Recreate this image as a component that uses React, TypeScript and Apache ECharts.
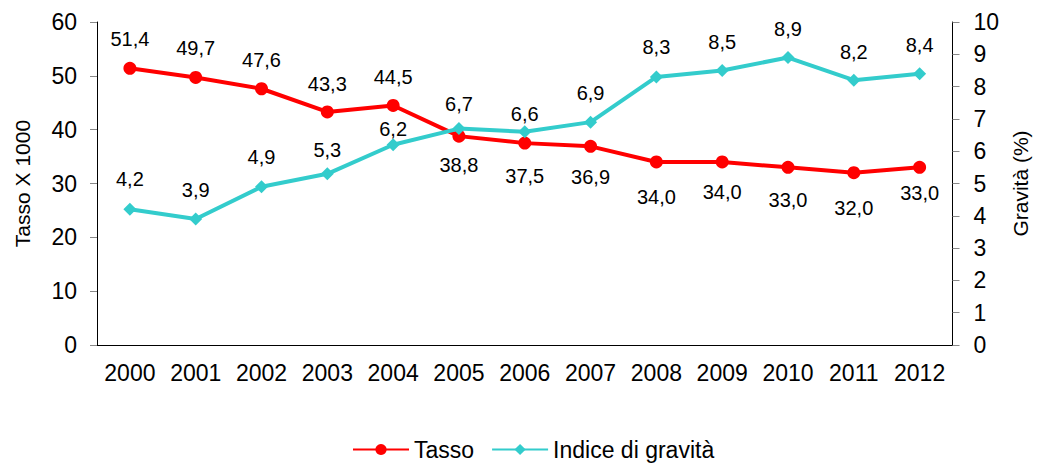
import React, { useEffect, useRef } from "react";
import * as echarts from "echarts";

const years = ["2000", "2001", "2002", "2003", "2004", "2005", "2006", "2007", "2008", "2009", "2010", "2011", "2012"];
const tasso = [51.4, 49.7, 47.6, 43.3, 44.5, 38.8, 37.5, 36.9, 34.0, 34.0, 33.0, 32.0, 33.0];
const gravita = [4.2, 3.9, 4.9, 5.3, 6.2, 6.7, 6.6, 6.9, 8.3, 8.5, 8.9, 8.2, 8.4];

// label vertical offsets (style only)
const tassoLabelDy = [-29, -29, -29, -28, -28, 29, 33, 31, 35, 30, 33, 35, 26];
const gravitaLabelDy = [-30, -29, -30, -24, -16, -25, -18, -29, -30, -28, -29, -28, -29];

const FONT = "'Liberation Sans', Arial, sans-serif";
const fmt = (v: number) => v.toFixed(1).replace(".", ",");

export default function App() {
  const ref = useRef<HTMLDivElement>(null);
  useEffect(() => {
    if (!ref.current) return;
    const chart = echarts.init(ref.current, undefined, { renderer: "svg" });
    const labelBase = {
      show: true,
      position: "inside" as const,
      color: "#000",
      fontSize: 20,
      fontFamily: FONT,
      formatter: (p: any) => fmt(p.value),
    };
    chart.setOption({
      animation: false,
      backgroundColor: "#fff",
      textStyle: { fontFamily: FONT },
      grid: { left: 97, right: 69, top: 22, bottom: 118, containLabel: false },
      legend: {
        left: 352,
        top: 438,
        padding: 0,
        itemWidth: 56,
        itemHeight: 14,
        itemGap: 17,
        textStyle: { fontSize: 23, color: "#000", fontFamily: FONT },
        data: ["Tasso", "Indice di gravità"],
      },
      xAxis: {
        type: "category",
        data: years,
        boundaryGap: true,
        axisLine: { lineStyle: { color: "#000", width: 1 } },
        axisTick: { length: 7, lineStyle: { color: "#888" } },
        axisLabel: { interval: 0, hideOverlap: false, fontSize: 23, color: "#000", margin: 16, fontFamily: FONT },
      },
      yAxis: [
        {
          type: "value",
          min: 0,
          max: 60,
          interval: 10,
          name: "Tasso X 1000",
          nameLocation: "middle",
          nameRotate: 90,
          nameGap: 64,
          nameTextStyle: { fontSize: 21, color: "#000", fontFamily: FONT },
          axisLine: { show: true, lineStyle: { color: "#000", width: 1 } },
          axisTick: { show: true, length: 7, lineStyle: { color: "#888" } },
          axisLabel: { fontSize: 23, color: "#000", margin: 20, fontFamily: FONT },
          splitLine: { show: false },
        },
        {
          type: "value",
          min: 0,
          max: 10,
          interval: 1,
          position: "right",
          name: "Gravità (%)",
          nameLocation: "middle",
          nameRotate: 90,
          nameGap: 46,
          nameTextStyle: { fontSize: 21, color: "#000", fontFamily: FONT },
          axisLine: { show: true, lineStyle: { color: "#000", width: 1 } },
          axisTick: { show: true, length: 7, lineStyle: { color: "#888" } },
          axisLabel: { fontSize: 23, color: "#000", margin: 21, fontFamily: FONT },
          splitLine: { show: false },
        },
      ],
      series: [
        {
          name: "Tasso",
          type: "line",
          yAxisIndex: 0,
          symbol: "circle",
          symbolSize: 13,
          color: "#FF0000",
          lineStyle: { color: "#FF0000", width: 4 },
          itemStyle: { color: "#FF0000" },
          data: tasso.map((v, i) => ({
            value: v,
            label: { ...labelBase, offset: [0, tassoLabelDy[i]] },
          })),
          z: 3,
        },
        {
          name: "Indice di gravità",
          type: "line",
          yAxisIndex: 1,
          symbol: "diamond",
          symbolSize: 13,
          color: "#33CCCC",
          lineStyle: { color: "#33CCCC", width: 4 },
          itemStyle: { color: "#33CCCC" },
          data: gravita.map((v, i) => ({
            value: v,
            label: { ...labelBase, offset: [0, gravitaLabelDy[i]] },
          })),
          z: 4,
        },
      ],
    });
    return () => chart.dispose();
  }, []);
  return (
    <div
      ref={ref}
      style={{ position: "absolute", left: 0, top: 0, width: 1039, height: 463, background: "#fff" }}
    />
  );
}
